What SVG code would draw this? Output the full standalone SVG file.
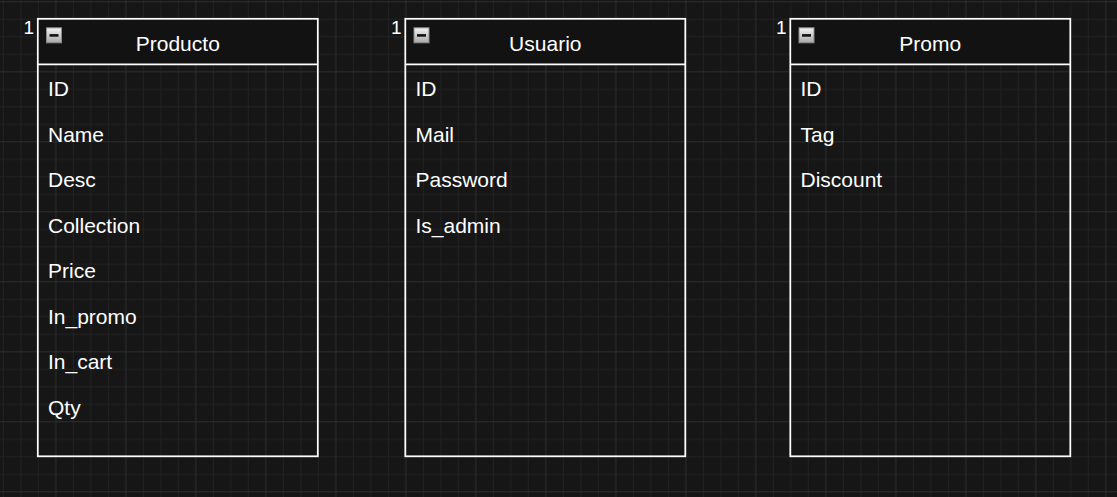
<svg xmlns="http://www.w3.org/2000/svg" width="1117" height="497" viewBox="0 0 1117 497">
<style>
text{font-family:"Liberation Sans",Arial,sans-serif;fill:#ffffff;font-size:21px}
.t{text-anchor:middle}
.n{text-anchor:end;font-size:19px}
.box{fill:none;stroke:#ffffff;stroke-width:1.75}
.hdr{fill:#121212}
.sep{stroke:#ffffff;stroke-width:1.75}
</style>
<defs>
<pattern id="grid" patternUnits="userSpaceOnUse" x="2.8" y="1.3" width="70" height="70">
<rect x="0" y="0" width="70" height="70" fill="#161616"/>
<g fill="#222222">
<rect x="0" y="0" width="1" height="70"/>
<rect x="17.5" y="0" width="1" height="70"/>
<rect x="35" y="0" width="1" height="70"/>
<rect x="0" y="17.5" width="70" height="1"/>
<rect x="0" y="35" width="70" height="1"/>
<rect x="0" y="52.5" width="70" height="1"/>
</g>
<g fill="#2e2e2e">
<rect x="52.5" y="0" width="1" height="70"/>
<rect x="0" y="0" width="70" height="1"/>
</g>
</pattern>
<linearGradient id="ig" x1="0" y1="0" x2="0" y2="1">
<stop offset="0" stop-color="#f2f2f2"/>
<stop offset="1" stop-color="#a8a8a8"/>
</linearGradient>
<g id="icon">
<rect x="0.5" y="0.5" width="15" height="15" fill="url(#ig)" stroke="#8a8a8a" stroke-width="1"/>
<rect x="3.5" y="6.8" width="9" height="2.6" fill="#111111"/>
</g>
</defs>
<rect width="1117" height="497" fill="url(#grid)"/>
<g id="connectors"></g>
<g id="producto">
<rect class="hdr" x="37.8" y="18.8" width="280" height="45.5"/>
<rect class="box" x="37.8" y="18.8" width="280" height="437.5"/>
<line class="sep" x1="37.8" y1="64.3" x2="317.8" y2="64.3"/>
<use href="#icon" x="46" y="27.3"/>
<text class="n" x="34" y="34">1</text>
<text class="t" x="177.8" y="51">Producto</text>
<text x="48" y="96">ID</text>
<text x="48" y="141.5">Name</text>
<text x="48" y="187">Desc</text>
<text x="48" y="232.5">Collection</text>
<text x="48" y="278">Price</text>
<text x="48" y="323.5">In_promo</text>
<text x="48" y="369">In_cart</text>
<text x="48" y="414.5">Qty</text>
</g>
<g id="usuario">
<rect class="hdr" x="405.3" y="18.8" width="280" height="45.5"/>
<rect class="box" x="405.3" y="18.8" width="280" height="437.5"/>
<line class="sep" x1="405.3" y1="64.3" x2="685.3" y2="64.3"/>
<use href="#icon" x="413.5" y="27.3"/>
<text class="n" x="401.5" y="34">1</text>
<text class="t" x="545.3" y="51">Usuario</text>
<text x="415.5" y="96">ID</text>
<text x="415.5" y="141.5">Mail</text>
<text x="415.5" y="187">Password</text>
<text x="415.5" y="232.5">Is_admin</text>
</g>
<g id="promo">
<rect class="hdr" x="790.3" y="18.8" width="280" height="45.5"/>
<rect class="box" x="790.3" y="18.8" width="280" height="437.5"/>
<line class="sep" x1="790.3" y1="64.3" x2="1070.3" y2="64.3"/>
<use href="#icon" x="798.5" y="27.3"/>
<text class="n" x="786.5" y="34">1</text>
<text class="t" x="930.3" y="51">Promo</text>
<text x="800.5" y="96">ID</text>
<text x="800.5" y="141.5">Tag</text>
<text x="800.5" y="187">Discount</text>
</g>
</svg>
